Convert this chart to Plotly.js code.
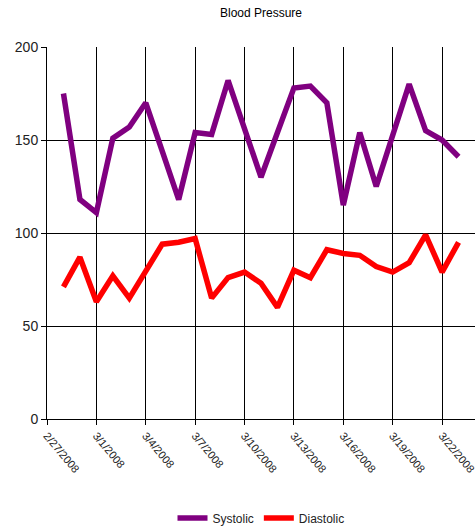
<!DOCTYPE html>
<html>
<head>
<meta charset="utf-8">
<script src="https://cdn.plot.ly/plotly-3.0.1.min.js"></script>
<style>
html,body{margin:0;padding:0;background:#fff;}
#chart{width:475px;height:527px;}
</style>
</head>
<body>
<div id="chart"></div>
<script>
var dates = ["2008-02-28","2008-02-29","2008-03-01","2008-03-02","2008-03-03","2008-03-04","2008-03-05",
  "2008-03-06","2008-03-07","2008-03-08","2008-03-09","2008-03-10","2008-03-11","2008-03-12",
  "2008-03-13","2008-03-14","2008-03-15","2008-03-16","2008-03-17","2008-03-18","2008-03-19",
  "2008-03-20","2008-03-21","2008-03-22","2008-03-23"];
var systolic = [175,118,111,151,157,170,144,118,154,153,182,156,130,154,178,179,170,115,154,125,152,180,155,150,141];
var diastolic = [71,87,63,77,65,80,94,95,97,65,76,79,73,60,80,76,91,89,88,82,79,84,99,79,95];
var tickDates = ["2008-02-27","2008-03-01","2008-03-04","2008-03-07","2008-03-10","2008-03-13","2008-03-16","2008-03-19","2008-03-22"];
var tickText = ["2/27/2008","3/1/2008","3/4/2008","3/7/2008","3/10/2008","3/13/2008","3/16/2008","3/19/2008","3/22/2008"];
var yTicks = [0,50,100,150,200];

var traces = [
  {x: dates, y: systolic, name: "Systolic", type: "scatter", mode: "lines",
   line: {color: "#800080", width: 5.5}},
  {x: dates, y: diastolic, name: "Diastolic", type: "scatter", mode: "lines",
   line: {color: "#FF0000", width: 5.5}}
];

var layout = {
  width: 475, height: 527,
  margin: {l: 47, r: 0, t: 47, b: 108, pad: 0},
  paper_bgcolor: "#fff", plot_bgcolor: "#fff",
  font: {family: "Liberation Sans, Arial, sans-serif", color: "#222"},
  title: {text: "Blood Pressure", x: 0.5, xref: "paper", xanchor: "center", y: 0.975, yanchor: "middle",
          font: {size: 12, color: "#000"}},
  xaxis: {
    type: "date",
    range: ["2008-02-27", "2008-03-24"],
    tickmode: "array", tickvals: tickDates, ticktext: tickText,
    tickangle: 50,
    ticklabeloverflow: "allow",
    ticks: "outside", ticklen: 5, tickcolor: "#000", tickwidth: 1,
    showgrid: true, gridcolor: "#000", gridwidth: 1,
    showline: true, linecolor: "#000", linewidth: 1,
    zeroline: false, automargin: false,
    tickfont: {size: 11, color: "#222"}
  },
  yaxis: {
    range: [0, 200],
    tickmode: "array", tickvals: yTicks,
    ticks: "outside", ticklen: 5, tickcolor: "#000", tickwidth: 1,
    showgrid: true, gridcolor: "#000", gridwidth: 1,
    showline: true, linecolor: "#000", linewidth: 1,
    zeroline: false, automargin: false,
    tickfont: {size: 14, color: "#222"}
  },
  showlegend: true,
  legend: {orientation: "h", x: 0.5, xref: "paper", xanchor: "center",
           y: 0.017, yref: "container", yanchor: "middle",
           font: {size: 12, color: "#222"}, itemwidth: 30, tracegroupgap: 0}
};

Plotly.newPlot("chart", traces, layout, {displayModeBar: false, staticPlot: true});
</script>
</body>
</html>
